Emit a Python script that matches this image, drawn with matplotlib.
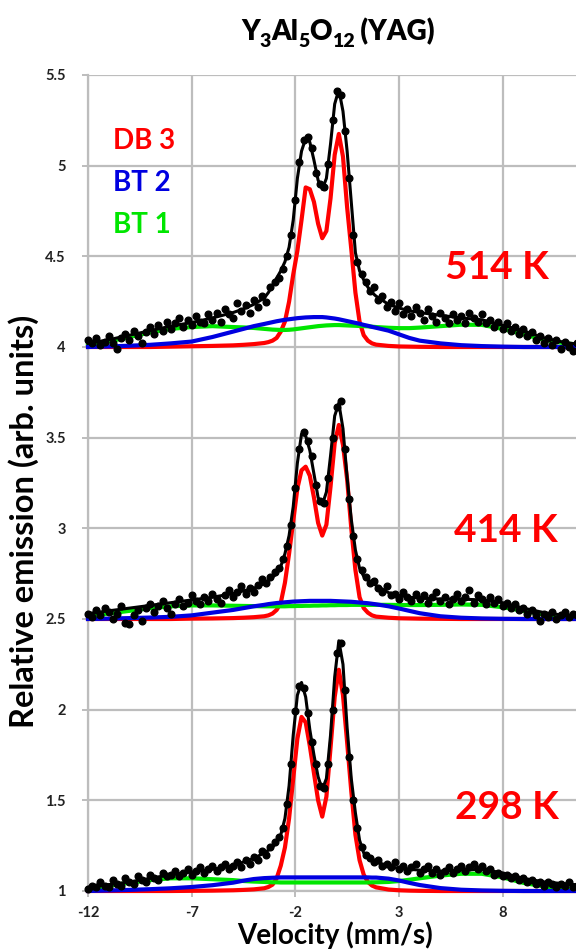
import matplotlib as mpl
mpl.use('agg')
import matplotlib.pyplot as plt
from matplotlib.transforms import IdentityTransform
import numpy as np

plt.rcParams['font.family'] = ['Lato', 'DejaVu Sans']

# velocity grid of the fitted curves (mm/s)
V_FIT = [-12, -11, -10, -9, -8, -7, -6, -5, -4.5, -4,
         -3.5, -3.3, -3.1, -2.9, -2.7, -2.5, -2.3, -2.1, -1.9, -1.7,
         -1.5, -1.3, -1.1, -0.9, -0.7, -0.5, -0.3, -0.1, 0.1, 0.3,
         0.5, 0.7, 0.9, 1.1, 1.3, 1.5, 1.7, 1.9, 2.5, 3,
         3.5, 4, 5, 6, 7, 8, 9, 10, 11, 12]

# measured channels (mm/s)
V_DATA = np.round(np.arange(-12.0, 11.7, 0.2), 1)

# ---- 514 K ----
DB3_514 = [4.0, 4.0, 4.0, 4.0, 4.002, 4.004, 4.006, 4.009, 4.012, 4.016,
           4.022, 4.027, 4.035, 4.05, 4.085, 4.14, 4.25, 4.40, 4.53, 4.70,
           4.88, 4.87, 4.80, 4.68, 4.60, 4.64, 4.82, 5.06, 5.175, 5.05,
           4.77, 4.54, 4.30, 4.14, 4.065, 4.035, 4.02, 4.013, 4.006, 4.003,
           4.002, 4.001, 4.0, 4.0, 4.0, 4.0, 4.0, 4.0, 4.0, 4.0]
BT2_514 = [4.0, 4.003, 4.007, 4.012, 4.02, 4.03, 4.055, 4.085, 4.10, 4.115,
           4.127, 4.132, 4.137, 4.142, 4.146, 4.15, 4.153, 4.156, 4.159, 4.161,
           4.163, 4.164, 4.165, 4.165, 4.165, 4.163, 4.16, 4.157, 4.153, 4.148,
           4.143, 4.138, 4.133, 4.128, 4.122, 4.117, 4.111, 4.106, 4.09, 4.07,
           4.05, 4.035, 4.02, 4.01, 4.005, 4.002, 4.0, 4.0, 4.0, 4.0]
BT1_514 = [4.01, 4.03, 4.055, 4.08, 4.10, 4.11, 4.115, 4.11, 4.108, 4.105,
           4.10, 4.098, 4.096, 4.095, 4.094, 4.094, 4.095, 4.097, 4.10, 4.103,
           4.106, 4.109, 4.112, 4.115, 4.117, 4.119, 4.12, 4.121, 4.121, 4.12,
           4.119, 4.118, 4.117, 4.116, 4.115, 4.114, 4.112, 4.11, 4.106, 4.104,
           4.104, 4.107, 4.115, 4.123, 4.122, 4.10, 4.07, 4.04, 4.02, 4.01]
FIT_514 = [4.02, 4.04, 4.065, 4.09, 4.115, 4.135, 4.16, 4.19, 4.21, 4.235,
           4.27, 4.30, 4.34, 4.38, 4.42, 4.47, 4.55, 4.70, 4.93, 5.08,
           5.15, 5.13, 5.03, 4.92, 4.87, 4.93, 5.12, 5.34, 5.42, 5.30,
           5.08, 4.80, 4.52, 4.42, 4.37, 4.33, 4.30, 4.28, 4.235, 4.215,
           4.20, 4.19, 4.175, 4.16, 4.15, 4.12, 4.09, 4.05, 4.025, 4.01]
DATA_514 = [4.04, 4.02, 4.05, 4.01, 4.03, 4.06, 4.02, 3.99, 4.05, 4.07,
            4.04, 4.09, 4.06, 4.02, 4.08, 4.11, 4.07, 4.12, 4.09, 4.14,
            4.10, 4.13, 4.16, 4.11, 4.15, 4.12, 4.17, 4.14, 4.13, 4.18,
            4.15, 4.19, 4.14, 4.21, 4.18, 4.16, 4.24, 4.20, 4.23, 4.19,
            4.26, 4.22, 4.28, 4.25, 4.33, 4.36, 4.38, 4.43, 4.50, 4.62,
            4.81, 5.02, 5.14, 5.16, 5.10, 4.96, 4.90, 4.88, 5.01, 5.25,
            5.41, 5.39, 5.19, 4.93, 4.62, 4.47, 4.40, 4.36, 4.31, 4.33,
            4.26, 4.28, 4.22, 4.25, 4.20, 4.24, 4.18, 4.21, 4.17, 4.22,
            4.19, 4.15, 4.21, 4.17, 4.14, 4.19, 4.16, 4.13, 4.18, 4.15,
            4.17, 4.13, 4.19, 4.16, 4.14, 4.18, 4.13, 4.15, 4.11, 4.14,
            4.10, 4.13, 4.09, 4.11, 4.07, 4.10, 4.06, 4.08, 4.04, 4.06,
            4.02, 4.05, 4.01, 4.04, 3.99, 4.03, 4.00, 3.98, 4.02]

# ---- 414 K ----
DB3_414 = [2.5, 2.5, 2.5, 2.5, 2.5, 2.502, 2.503, 2.505, 2.507, 2.51,
           2.515, 2.52, 2.53, 2.55, 2.59, 2.70, 2.86, 3.04, 3.22, 3.32,
           3.34, 3.29, 3.17, 3.03, 2.96, 3.02, 3.23, 3.47, 3.57, 3.46,
           3.27, 3.00, 2.77, 2.62, 2.56, 2.535, 2.52, 2.513, 2.507, 2.504,
           2.503, 2.502, 2.501, 2.5, 2.5, 2.5, 2.5, 2.5, 2.5, 2.5]
BT2_414 = [2.5, 2.502, 2.505, 2.508, 2.512, 2.52, 2.535, 2.55, 2.56, 2.57,
           2.578, 2.582, 2.585, 2.588, 2.59, 2.592, 2.594, 2.596, 2.597, 2.598,
           2.599, 2.6, 2.6, 2.6, 2.6, 2.6, 2.6, 2.599, 2.598, 2.597,
           2.596, 2.595, 2.593, 2.591, 2.589, 2.587, 2.584, 2.581, 2.57, 2.558,
           2.545, 2.532, 2.515, 2.507, 2.503, 2.501, 2.5, 2.5, 2.5, 2.5]
BT1_414 = [2.515, 2.53, 2.545, 2.56, 2.57, 2.575, 2.575, 2.573, 2.572, 2.571,
           2.57, 2.57, 2.57, 2.57, 2.57, 2.57, 2.571, 2.571, 2.572, 2.572,
           2.573, 2.573, 2.574, 2.574, 2.575, 2.575, 2.576, 2.576, 2.577, 2.577,
           2.577, 2.578, 2.578, 2.578, 2.578, 2.578, 2.578, 2.578, 2.578, 2.577,
           2.577, 2.577, 2.578, 2.58, 2.578, 2.565, 2.545, 2.525, 2.513, 2.507]
FIT_414 = [2.53, 2.545, 2.56, 2.575, 2.59, 2.605, 2.62, 2.64, 2.655, 2.67,
           2.695, 2.71, 2.73, 2.75, 2.79, 2.86, 2.96, 3.12, 3.36, 3.52,
           3.51, 3.43, 3.30, 3.17, 3.13, 3.20, 3.40, 3.62, 3.69, 3.55,
           3.28, 3.05, 2.88, 2.78, 2.735, 2.715, 2.70, 2.685, 2.645, 2.63,
           2.62, 2.615, 2.61, 2.61, 2.605, 2.59, 2.56, 2.535, 2.52, 2.51]
DATA_414 = [2.53, 2.51, 2.55, 2.52, 2.56, 2.54, 2.50, 2.53, 2.57, 2.48,
            2.47, 2.52, 2.55, 2.49, 2.56, 2.58, 2.54, 2.57, 2.60, 2.56,
            2.53, 2.58, 2.61, 2.57, 2.59, 2.63, 2.60, 2.58, 2.62, 2.60,
            2.64, 2.61, 2.59, 2.63, 2.66, 2.62, 2.65, 2.68, 2.64, 2.67,
            2.65, 2.69, 2.72, 2.70, 2.73, 2.76, 2.78, 2.83, 2.90, 3.02,
            3.22, 3.44, 3.53, 3.48, 3.40, 3.24, 3.15, 3.14, 3.28, 3.50,
            3.67, 3.70, 3.44, 3.16, 2.96, 2.83, 2.77, 2.73, 2.70, 2.71,
            2.67, 2.65, 2.68, 2.63, 2.64, 2.61, 2.65, 2.62, 2.60, 2.64,
            2.61, 2.63, 2.59, 2.62, 2.65, 2.60, 2.62, 2.58, 2.61, 2.64,
            2.60, 2.62, 2.66, 2.59, 2.63, 2.61, 2.58, 2.62, 2.59, 2.61,
            2.57, 2.59, 2.56, 2.58, 2.55, 2.56, 2.53, 2.55, 2.52, 2.49,
            2.53, 2.51, 2.54, 2.50, 2.52, 2.54, 2.51, 2.53, 2.52]

# ---- 298 K ----
DB3_298 = [1.0, 1.0, 1.0, 1.0, 1.0, 1.001, 1.002, 1.004, 1.006, 1.009,
           1.015, 1.022, 1.035, 1.07, 1.14, 1.24, 1.40, 1.62, 1.84, 1.96,
           1.93, 1.80, 1.65, 1.50, 1.41, 1.52, 1.79, 2.07, 2.22, 2.08,
           1.82, 1.55, 1.31, 1.17, 1.09, 1.05, 1.03, 1.02, 1.008, 1.004,
           1.002, 1.001, 1.0, 1.0, 1.0, 1.0, 1.0, 1.0, 1.0, 1.0]
BT2_298 = [1.0, 1.003, 1.006, 1.01, 1.015, 1.022, 1.032, 1.046, 1.057, 1.066,
           1.071, 1.072, 1.073, 1.074, 1.075, 1.075, 1.075, 1.075, 1.075, 1.075,
           1.075, 1.075, 1.075, 1.075, 1.075, 1.075, 1.075, 1.075, 1.075, 1.075,
           1.075, 1.075, 1.075, 1.075, 1.075, 1.075, 1.074, 1.074, 1.068, 1.058,
           1.045, 1.033, 1.016, 1.007, 1.003, 1.001, 1.0, 1.0, 1.0, 1.0]
BT1_298 = [1.01, 1.03, 1.045, 1.06, 1.07, 1.07, 1.065, 1.06, 1.055, 1.052,
           1.05, 1.049, 1.048, 1.048, 1.047, 1.047, 1.047, 1.047, 1.047, 1.047,
           1.047, 1.047, 1.047, 1.047, 1.047, 1.047, 1.047, 1.047, 1.047, 1.047,
           1.047, 1.047, 1.047, 1.047, 1.047, 1.047, 1.048, 1.048, 1.05, 1.055,
           1.062, 1.07, 1.085, 1.095, 1.095, 1.075, 1.045, 1.025, 1.012, 1.005]
FIT_298 = [1.02, 1.035, 1.05, 1.07, 1.09, 1.105, 1.12, 1.14, 1.16, 1.18,
           1.21, 1.225, 1.24, 1.27, 1.31, 1.40, 1.58, 1.86, 2.08, 2.15,
           2.07, 1.89, 1.75, 1.63, 1.56, 1.62, 1.86, 2.18, 2.38, 2.25,
           1.90, 1.62, 1.43, 1.28, 1.21, 1.185, 1.17, 1.16, 1.135, 1.125,
           1.12, 1.115, 1.11, 1.115, 1.12, 1.10, 1.07, 1.05, 1.04, 1.03]
DATA_298 = [1.01, 1.03, 1.02, 1.05, 1.03, 1.02, 1.06, 1.04, 1.03, 1.07,
            1.05, 1.04, 1.08, 1.06, 1.05, 1.09, 1.07, 1.06, 1.10, 1.08,
            1.09, 1.11, 1.08, 1.10, 1.12, 1.09, 1.11, 1.13, 1.10, 1.12,
            1.14, 1.11, 1.13, 1.15, 1.12, 1.14, 1.16, 1.13, 1.17, 1.15,
            1.19, 1.17, 1.22, 1.20, 1.24, 1.27, 1.30, 1.35, 1.48, 1.70,
            1.99, 2.13, 2.12, 1.98, 1.82, 1.70, 1.58, 1.57, 1.70, 2.00,
            2.31, 2.37, 2.11, 1.74, 1.50, 1.35, 1.24, 1.20, 1.18, 1.16,
            1.17, 1.14, 1.15, 1.13, 1.16, 1.12, 1.14, 1.11, 1.13, 1.15,
            1.10, 1.12, 1.14, 1.10, 1.12, 1.09, 1.11, 1.13, 1.10, 1.12,
            1.14, 1.11, 1.13, 1.15, 1.12, 1.14, 1.11, 1.12, 1.09, 1.10,
            1.08, 1.09, 1.07, 1.08, 1.06, 1.07, 1.05, 1.06, 1.04, 1.05,
            1.03, 1.05, 1.04, 1.02, 1.04, 1.03, 1.05, 1.02, 1.03]

SPECTRA = [
    ('514 K', DB3_514, BT2_514, BT1_514, FIT_514, DATA_514, (7.73, 4.436)),
    ('414 K', DB3_414, BT2_414, BT1_414, FIT_414, DATA_414, (8.16, 2.986)),
    ('298 K', DB3_298, BT2_298, BT1_298, FIT_298, DATA_298, (8.2, 1.459)),
]

X_TICKS = [-12, -7, -2, 3, 8]
Y_TICKS = [1, 1.5, 2, 2.5, 3, 3.5, 4, 4.5, 5, 5.5]
Y_LABELS = ['1', '1.5', '2', '2.5', '3', '3.5', '4', '4.5', '5', '5.5']

# title pieces: (text, is_subscript)
TITLE_PARTS = [('Y', False), ('3', True), ('Al', False), ('5', True),
               ('O', False), ('12', True), (' (YAG)', False)]

RED = '#ff0000'
BLUE = '#0000e0'
GREEN = '#00e600'
GRID = '#bdbdbd'

fig = plt.figure(figsize=(5.76, 9.52), dpi=100)
ax = fig.add_axes([88 / 576, 61 / 952, 488 / 576, 816 / 952])

for name, db3, bt2, bt1, fit, data, pos in SPECTRA:
    ax.plot(V_FIT, db3, color=RED, lw=3.0, clip_on=False, zorder=3)
    ax.plot(V_FIT, bt1, color=GREEN, lw=3.0, clip_on=False, zorder=3)
    ax.plot(V_FIT, bt2, color=BLUE, lw=3.0, clip_on=False, zorder=3)
    ax.plot(V_FIT, fit, color='black', lw=2.2, clip_on=False, zorder=4)
    ax.plot(V_DATA, data, 'o', color='black', ms=4.8, clip_on=False, zorder=5)
    ax.text(pos[0], pos[1], name, color=RED, fontsize=28, fontweight='bold',
            ha='center', va='center', zorder=6)

ax.text(-10.79, 5.136, 'DB 3', color=RED, fontsize=20, fontweight='bold', va='center')
ax.text(-10.79, 4.905, 'BT 2', color=BLUE, fontsize=20, fontweight='bold', va='center')
ax.text(-10.79, 4.673, 'BT 1', color=GREEN, fontsize=20, fontweight='bold', va='center')

ax.set_xlim(-12, -12 + 488 / 20.73)
ax.set_ylim(1, 5.5)
ax.set_xticks(X_TICKS)
ax.set_xticklabels([str(t) for t in X_TICKS])
ax.set_yticks(Y_TICKS)
ax.set_yticklabels(Y_LABELS)
ax.grid(True, color=GRID, lw=1.6, zorder=0)
ax.set_axisbelow(True)
for side in ['top', 'right']:
    ax.spines[side].set_visible(False)
for side in ['left', 'bottom']:
    ax.spines[side].set_color(GRID)
    ax.spines[side].set_linewidth(1.6)
ax.tick_params(axis='both', colors=GRID, length=4, width=1.4, labelsize=10.5,
               labelcolor='#222222')
ax.tick_params(axis='y', pad=12)
ax.tick_params(axis='x', pad=7)
for lab in ax.get_xticklabels() + ax.get_yticklabels():
    lab.set_fontweight('bold')

# title with subscripts, built piece by piece in pixel coordinates
renderer = fig.canvas.get_renderer()
pieces = []
x = 0.0
for s, sub in TITLE_PARTS:
    t = fig.text(x, 952 - 40 - (7 if sub else 0), s, fontsize=14 if sub else 20,
                 fontweight='heavy', va='baseline', ha='left',
                 transform=IdentityTransform())
    x = t.get_window_extent(renderer).x1
    pieces.append(t)
shift = 338 - x / 2
for t in pieces:
    px, py = t.get_position()
    t.set_position((px + shift, py))

fig.text(335 / 576, 1 - 935 / 952, 'Velocity (mm/s)', fontsize=20,
         fontweight='bold', ha='center', va='center')
fig.text(24 / 576, 1 - 521 / 952, 'Relative emission (arb. units)', fontsize=23.5,
         fontweight='bold', ha='center', va='center', rotation=90)

fig.savefig('out.png', dpi=100)
plt.close(fig)
